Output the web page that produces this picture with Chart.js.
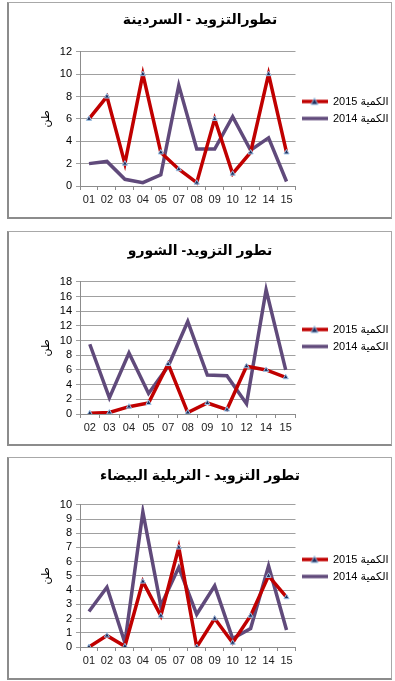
<!DOCTYPE html>
<html>
<head>
<meta charset="utf-8">
<script src="https://cdn.jsdelivr.net/npm/chart.js"></script>
<style>
  body { margin: 0; background: #fff; }
  .box {
    position: absolute;
    left: 7px;
    width: 382px;
    border: 1px solid #a8a8a8;
    border-left: 2px solid #8c8c8c;
    border-bottom: 2px solid #8c8c8c;
    background: #fff;
  }
  canvas { display: block; }
</style>
</head>
<body>
<div class="box" style="top:2px;height:214px"><canvas id="c1" width="382" height="214"></canvas></div>
<div class="box" style="top:231px;height:212px"><canvas id="c2" width="382" height="212"></canvas></div>
<div class="box" style="top:457px;height:220px"><canvas id="c3" width="382" height="220"></canvas></div>
<script>
// السردينة
const months1 = ['01', '02', '03', '04', '05', '07', '08', '09', '10', '12', '14', '15'];
const sardine2015 = [6, 8, 2, 10, 3, 1.5, 0.3, 6, 1.1, 3, 10, 3];
const sardine2014 = [2, 2.2, 0.6, 0.3, 1, 9, 3.3, 3.3, 6.2, 3.2, 4.3, 0.4];

// الشورو
const months2 = ['02', '03', '04', '05', '07', '08', '09', '10', '12', '14', '15'];
const chourou2015 = [0.1, 0.2, 1, 1.5, 6.8, 0.2, 1.5, 0.6, 6.5, 6, 5];
const chourou2014 = [9.5, 2.2, 8.3, 2.8, 6.5, 12.6, 5.3, 5.2, 1.4, 16.9, 6];

// التريلية البيضاء
const months3 = ['01', '02', '03', '04', '05', '07', '08', '09', '10', '12', '14', '15'];
const trilia2015 = [0, 0.8, 0.05, 4.6, 2.2, 7, 0, 2, 0.3, 2.2, 5, 3.5];
const trilia2014 = [2.5, 4.2, 0.3, 9.5, 2.9, 5.6, 2.3, 4.3, 0.6, 1.3, 5.7, 1.2];

const seriesNames = ['الكمية 2015', 'الكمية 2014'];
const RED = '#c00000';
const PURPLE = '#604a7b';
const FONT = "Arial, 'Liberation Sans', 'DejaVu Sans', sans-serif";

Chart.defaults.font.family = FONT;
Chart.defaults.color = '#000';

// little line + marker pictures for the legend
function legendIcon(color, marker) {
    const c = document.createElement('canvas');
    c.width = 26; c.height = 10;
    const ctx = c.getContext('2d');
    ctx.strokeStyle = color;
    ctx.lineWidth = 3.5;
    ctx.beginPath();
    ctx.moveTo(0, 5);
    ctx.lineTo(26, 5);
    ctx.stroke();
    if (marker) {
        ctx.fillStyle = '#1f2d5a';
        ctx.strokeStyle = '#9dc3e6';
        ctx.lineWidth = 1;
        ctx.beginPath();
        ctx.moveTo(13, 1.5);
        ctx.lineTo(16.5, 8);
        ctx.lineTo(9.5, 8);
        ctx.closePath();
        ctx.fill();
        ctx.stroke();
    }
    return c;
}
const icons = [legendIcon(RED, true), legendIcon(PURPLE, false)];

function makeChart(id, title, labels, v2015, v2014, yMax, step, t) {
    new Chart(document.getElementById(id), {
        type: 'line',
        data: {
            labels: labels,
            datasets: [{
                label: seriesNames[0],
                data: v2015,
                borderColor: RED,
                borderWidth: 3.5,
                pointStyle: 'triangle',
                pointRadius: 3,
                pointBackgroundColor: '#1f2d5a',
                pointBorderColor: '#9dc3e6',
                pointBorderWidth: 1,
                tension: 0
            }, {
                label: seriesNames[1],
                data: v2014,
                borderColor: PURPLE,
                borderWidth: 3.5,
                pointRadius: 0,
                tension: 0
            }]
        },
        options: {
            responsive: false,
            animation: false,
            devicePixelRatio: 1,
            layout: { padding: { right: t.padRight, bottom: 0 } },
            plugins: {
                title: {
                    display: true,
                    text: title,
                    font: { size: 14, weight: 'bold' },
                    color: '#000',
                    padding: { top: t.titleTop, bottom: t.titleBottom }
                },
                legend: {
                    position: 'right',
                    labels: {
                        usePointStyle: true,
                        pointStyleWidth: 26,
                        padding: 6,
                        font: { size: 11 },
                        generateLabels: chart => chart.data.datasets.map((ds, i) => ({
                            text: ds.label,
                            pointStyle: icons[i],
                            datasetIndex: i,
                            lineWidth: 0,
                            fillStyle: 'transparent',
                            strokeStyle: 'transparent'
                        }))
                    }
                },
                tooltip: { enabled: false }
            },
            scales: {
                x: {
                    offset: true,
                    grid: { offset: true, drawOnChartArea: false, tickLength: 4, color: '#8c8c8c' },
                    border: { color: '#8c8c8c' },
                    ticks: { font: { size: 11 }, color: '#222', padding: 3, maxRotation: 0, autoSkip: false },
                    afterFit: s => { s.height = t.xHeight; }
                },
                y: {
                    min: 0,
                    max: yMax,
                    ticks: { stepSize: step, font: { size: 11 }, padding: 4, autoSkip: false },
                    grid: { color: '#a0a0a0', tickLength: 4 },
                    border: { color: '#8c8c8c' },
                    title: { display: true, text: 'طن', font: { size: 11 }, padding: { top: 30 } },
                    afterFit: s => { s.width = 71; }
                }
            }
        }
    });
}

makeChart('c1', 'تطورالتزويد - السردينة', months1, sardine2015, sardine2014, 12, 2,
    { titleTop: 9, titleBottom: 23, xHeight: 31, padRight: 0 });
makeChart('c2', 'تطور التزويد- الشورو', months2, chourou2015, chourou2014, 18, 2,
    { titleTop: 11, titleBottom: 22, xHeight: 30, padRight: 0 });
makeChart('c3', 'تطور التزويد - التريلية البيضاء', months3, trilia2015, trilia2014, 10, 1,
    { titleTop: 10, titleBottom: 20, xHeight: 31, padRight: 0 });
</script>
</body>
</html>
